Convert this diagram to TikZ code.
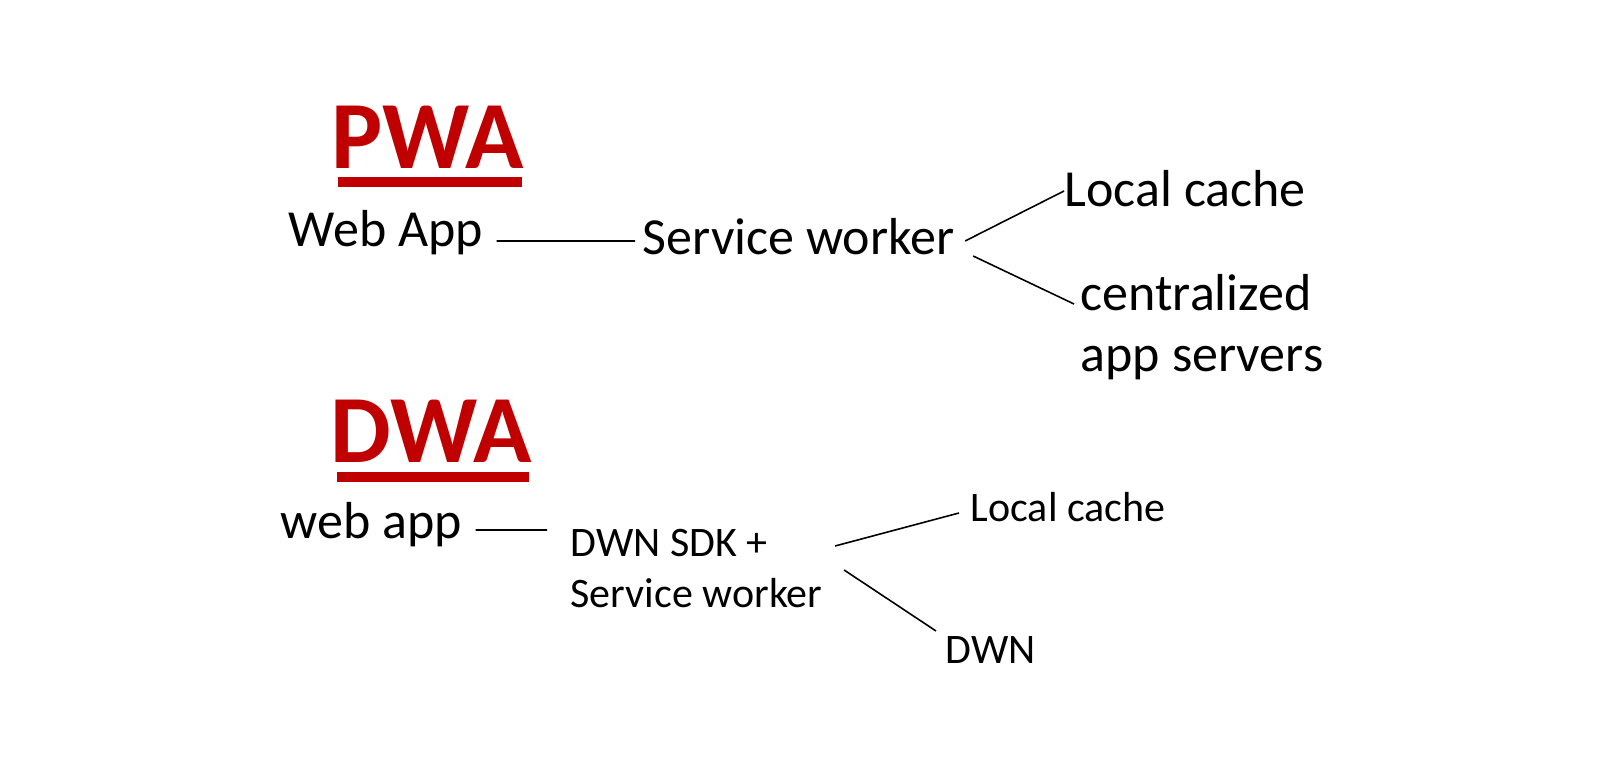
\documentclass[tikz,border=0pt]{standalone}
\usepackage{fontspec}
\setmainfont{Carlito}
\usetikzlibrary{positioning}
\definecolor{headred}{HTML}{C00000}

\begin{document}
\begin{tikzpicture}[
    lbl/.style={anchor=base west, inner sep=0pt, font=\fontsize{14.8}{17.4}\selectfont},
    smalllbl/.style={anchor=base west, inner sep=0pt, font=\fontsize{11.95}{14.5}\selectfont},
    head/.style={anchor=base west, inner sep=0pt, text=headred, font=\fontsize{27.4}{30}\selectfont\bfseries},
    link/.style={draw=black, line width=0.45pt}]
        \useasboundingbox (0,0) rectangle (16,7.68);
        % PWA
        \node[head] (pwa) at (3.31,5.99) {PWA};
        \fill[headred] ([shift={(0.07,-0.085)}]pwa.base west) rectangle ([shift={(-0.03,-0.177)}]pwa.base east);
        \node[lbl] (webapp) at (2.88,5.21) {Web App};
        \node[lbl] (sw) at (6.42,5.13) {Service worker};
        \node[lbl] (cache) at (10.64,5.61) {Local cache};
        \node[lbl, align=left] (central) at (10.80,3.96) {centralized\\app servers};
        \draw[link] ([shift={(0.13,0.06)}]webapp.base east) -- ([shift={(-0.07,0.14)}]sw.base west);
        \draw[link] ([shift={(0.10,0.14)}]sw.base east) -- ([shift={(0,0.16)}]cache.base west);
        \draw[link] ([shift={(0.18,-0.01)}]sw.base east) -- ([shift={(-0.06,0.68)}]central.base west);
        % DWA
        \node[head] (dwa) at (3.30,3.05) {DWA};
        \fill[headred] ([shift={(0.07,-0.09)}]dwa.base west) rectangle ([shift={(-0.03,-0.19)}]dwa.base east);
        \node[lbl] (webapp2) at (2.80,2.29) {web app};
        \node[smalllbl, align=left] (dsdk) at (5.70,1.61) {DWN SDK +\\Service worker};
        \node[smalllbl] (cache2) at (9.70,2.46) {Local cache};
        \node[smalllbl] (dwn) at (9.45,1.05) {DWN};
        \draw[link] ([shift={(0.13,0.09)}]webapp2.base east) -- ([shift={(-0.23,0.77)}]dsdk.base west);
        \draw[link] ([shift={(0.12,0.61)}]dsdk.base east) -- ([shift={(-0.11,0.09)}]cache2.base west);
        \draw[link] ([shift={(0.21,0.37)}]dsdk.base east) -- ([shift={(-0.09,0.32)}]dwn.base west);
\end{tikzpicture}
\end{document}
